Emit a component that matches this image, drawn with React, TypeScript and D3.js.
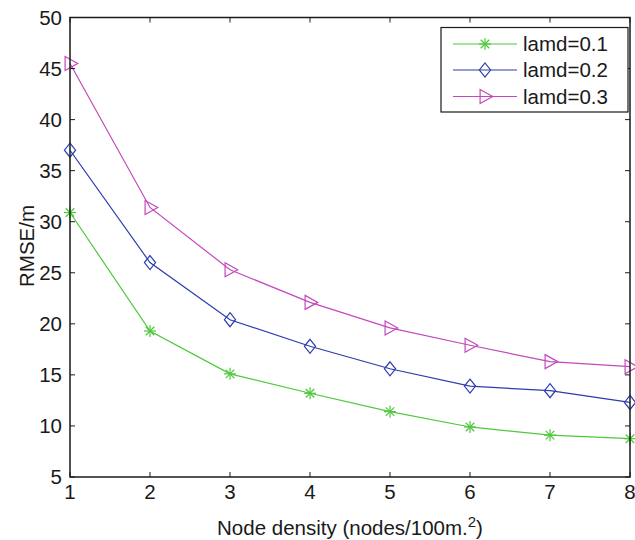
import React from "react";
import * as d3 from "d3";

const densities = [1, 2, 3, 4, 5, 6, 7, 8];
const lamd01 = [30.9, 19.3, 15.1, 13.2, 11.4, 9.9, 9.1, 8.75];
const lamd02 = [37.0, 26.0, 20.4, 17.8, 15.6, 13.9, 13.45, 12.3];
const lamd03 = [45.5, 31.4, 25.3, 22.1, 19.6, 17.9, 16.3, 15.8];
const seriesNames = ["lamd=0.1", "lamd=0.2", "lamd=0.3"];
const yTicks = [5, 10, 15, 20, 25, 30, 35, 40, 45, 50];
const xTicks = [1, 2, 3, 4, 5, 6, 7, 8];

const W = 635, H = 540;
const L = 70, R = 630, T = 17.5, B = 477;
const font = "'Liberation Sans', Arial, Helvetica, sans-serif";
const FS = 20.5;

const colors = ["#4ec83c", "#2b3cae", "#c448bc"];

function Marker({ kind, x, y, color }: { kind: number; x: number; y: number; color: string }) {
  if (kind === 0) {
    const r = 6;
    const d = r * 0.7071;
    return (
      <g stroke={color} strokeWidth={1.2}>
        <line x1={x - r} y1={y} x2={x + r} y2={y} />
        <line x1={x} y1={y - r} x2={x} y2={y + r} />
        <line x1={x - d} y1={y - d} x2={x + d} y2={y + d} />
        <line x1={x - d} y1={y + d} x2={x + d} y2={y - d} />
      </g>
    );
  }
  if (kind === 1) {
    const r = 7;
    return <path d={`M${x},${y - r}L${x + r * 0.8},${y}L${x},${y + r}L${x - r * 0.8},${y}Z`} fill="none" stroke={color} strokeWidth={1.2} />;
  }
  const r = 7;
  return <path d={`M${x - r * 0.7},${y - r}L${x + r * 1.1},${y}L${x - r * 0.7},${y + r}Z`} fill="none" stroke={color} strokeWidth={1.2} />;
}

export default function App() {
  const x = d3.scaleLinear().domain([1, 8]).range([L, R]);
  const y = d3.scaleLinear().domain([5, 50]).range([B, T]);
  const series = [lamd01, lamd02, lamd03];
  const line = d3.line<number>().x((_, i) => x(densities[i])).y((v) => y(v));

  const legX = 441, legY = 27.5, legW = 187, legH = 84.5;
  const rowY = [44, 70, 96.5];

  return (
    <svg width={W} height={H} style={{ position: "absolute", left: 0, top: 0, background: "#fff" }} fontFamily={font}>
      <rect x={0} y={0} width={W} height={H} fill="#fff" />
      {series.map((s, k) => (
        <g key={k}>
          <path d={line(s) || ""} fill="none" stroke={colors[k]} strokeWidth={1.2} />
          {s.map((v, i) => (
            <Marker key={i} kind={k} x={x(densities[i])} y={y(v)} color={colors[k]} />
          ))}
        </g>
      ))}
      {/* axes box */}
      <rect x={L} y={T} width={R - L} height={B - T} fill="none" stroke="#1a1a1a" strokeWidth={1.5} />
      {xTicks.map((t) => (
        <g key={t}>
          <line x1={x(t)} y1={B} x2={x(t)} y2={B - 5} stroke="#1a1a1a" />
          <line x1={x(t)} y1={T} x2={x(t)} y2={T + 5} stroke="#1a1a1a" />
          <text x={x(t)} y={B + 22} fontSize={FS} textAnchor="middle" fill="#1a1a1a">{t}</text>
        </g>
      ))}
      {yTicks.map((t) => (
        <g key={t}>
          <line x1={L} y1={y(t)} x2={L + 5} y2={y(t)} stroke="#1a1a1a" />
          <line x1={R} y1={y(t)} x2={R - 5} y2={y(t)} stroke="#1a1a1a" />
          <text x={L - 8} y={y(t) + 7} fontSize={FS} textAnchor="end" fill="#1a1a1a">{t}</text>
        </g>
      ))}
      <text x={(L + R) / 2} y={535} fontSize={FS} textAnchor="middle" fill="#1a1a1a">
        Node density (nodes/100m.<tspan dy={-8} fontSize={15}>2</tspan><tspan dy={8}>)</tspan>
      </text>
      <text transform={`translate(34,246) rotate(-90)`} fontSize={FS} textAnchor="middle" fill="#1a1a1a">RMSE/m</text>
      {/* legend */}
      <rect x={legX} y={legY} width={legW} height={legH} fill="#fff" stroke="#1a1a1a" strokeWidth={1.2} />
      {seriesNames.map((n, k) => (
        <g key={n}>
          <line x1={453} y1={rowY[k]} x2={517} y2={rowY[k]} stroke={colors[k]} strokeWidth={1.2} />
          <Marker kind={k} x={485} y={rowY[k]} color={colors[k]} />
          <text x={523} y={rowY[k] + 7} fontSize={FS} fill="#1a1a1a">{n}</text>
        </g>
      ))}
    </svg>
  );
}
